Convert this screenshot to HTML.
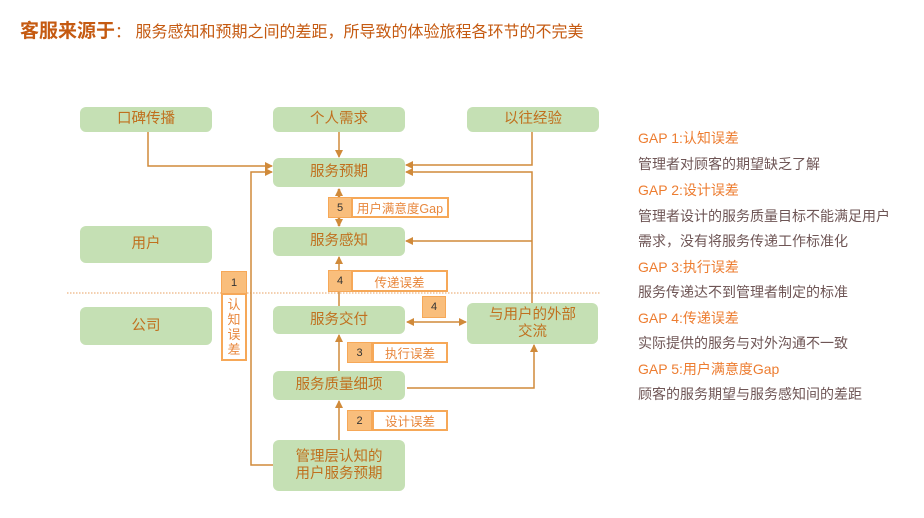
<!DOCTYPE html>
<html><head><meta charset="utf-8"><style>
body{margin:0;width:924px;height:518px;background:#fff;position:relative;overflow:hidden;font-family:"Liberation Sans","Noto Sans CJK SC",sans-serif}
.n{position:absolute;background:#c5e0b4;border-radius:6px;color:#c0701e;font-size:14.5px;display:flex;align-items:center;justify-content:center;text-align:center;line-height:17px}
.num{position:absolute;background:#f9be7c;border:1px solid #f6a858;box-sizing:border-box;font-size:11px;color:#333;display:flex;align-items:center;justify-content:center}
.lb{position:absolute;background:#fff;border:2px solid #f6a858;box-sizing:border-box;font-size:12.5px;color:#e8873c;display:flex;align-items:center;justify-content:center}
.r{position:absolute;left:638px;font-size:14px;white-space:nowrap}
.g{color:#ed7d31}.d{color:#6e5555}
</style></head><body>
<div style="position:absolute;left:20px;top:16px;white-space:nowrap;color:#c55a11"><b style="font-size:19px">客服来源于</b><span style="font-size:16px">：&nbsp;服务感知和预期之间的差距，所导致的体验旅程各环节的不完美</span></div>
<svg width="924" height="518" style="position:absolute;left:0;top:0">
<defs><marker id="a" markerWidth="8" markerHeight="8" refX="7" refY="4" orient="auto" markerUnits="userSpaceOnUse"><path d="M0,0L8,4L0,8z" fill="#d08a3a"/></marker>
<marker id="s" markerWidth="8" markerHeight="8" refX="1" refY="4" orient="auto" markerUnits="userSpaceOnUse"><path d="M8,0L0,4L8,8z" fill="#d08a3a"/></marker></defs>
<g stroke="#d08a3a" stroke-width="1.5" fill="none">
<line x1="67" y1="293" x2="600" y2="293" stroke="#e8a060" stroke-width="1" stroke-dasharray="1.5,1.5"/>
<polyline points="148,132 148,166 272,166" marker-end="url(#a)"/>
<line x1="339" y1="132" x2="339" y2="157" marker-end="url(#a)"/>
<polyline points="532,132 532,165 406,165" marker-end="url(#a)"/>
<polyline points="532,303 532,172 406,172" marker-end="url(#a)"/>
<line x1="532" y1="241" x2="406" y2="241" marker-end="url(#a)"/>
<polyline points="273,465 251,465 251,172 272,172" marker-end="url(#a)"/>
<line x1="339" y1="189" x2="339" y2="226" stroke-width="2.5" marker-start="url(#s)" marker-end="url(#a)"/>
<line x1="339" y1="306" x2="339" y2="257" marker-end="url(#a)"/>
<line x1="339" y1="371" x2="339" y2="335" marker-end="url(#a)"/>
<line x1="339" y1="440" x2="339" y2="401" marker-end="url(#a)"/>
<line x1="407" y1="322" x2="466" y2="322" marker-start="url(#s)" marker-end="url(#a)"/>
<polyline points="407,388 534,388 534,345" marker-end="url(#a)"/>
</g></svg>
<div class="n" style="left:80px;top:107px;width:132px;height:25px">口碑传播</div>
<div class="n" style="left:273px;top:107px;width:132px;height:25px">个人需求</div>
<div class="n" style="left:467px;top:107px;width:132px;height:25px">以往经验</div>
<div class="n" style="left:273px;top:158px;width:132px;height:29px">服务预期</div>
<div class="n" style="left:273px;top:227px;width:132px;height:29px">服务感知</div>
<div class="n" style="left:80px;top:226px;width:132px;height:37px">用户</div>
<div class="n" style="left:80px;top:307px;width:132px;height:38px">公司</div>
<div class="n" style="left:273px;top:306px;width:132px;height:28px">服务交付</div>
<div class="n" style="left:467px;top:303px;width:131px;height:41px">与用户的外部<br>交流</div>
<div class="n" style="left:273px;top:371px;width:132px;height:29px">服务质量细项</div>
<div class="n" style="left:273px;top:440px;width:132px;height:51px">管理层认知的<br>用户服务预期</div>
<div class="num" style="left:221px;top:271px;width:26px;height:23px">1</div>
<div class="lb" style="left:221px;top:293px;width:26px;height:68px;border-width:2px;font-size:13px;line-height:15px;text-align:center">认<br>知<br>误<br>差</div>
<div class="num" style="left:328px;top:197px;width:24px;height:21px">5</div>
<div class="lb" style="left:351px;top:197px;width:98px;height:21px">用户满意度Gap</div>
<div class="num" style="left:328px;top:270px;width:24px;height:22px">4</div>
<div class="lb" style="left:351px;top:270px;width:97px;height:22px">传递误差</div>
<div class="num" style="left:422px;top:296px;width:24px;height:22px">4</div>
<div class="num" style="left:347px;top:342px;width:25px;height:21px">3</div>
<div class="lb" style="left:372px;top:342px;width:76px;height:21px">执行误差</div>
<div class="num" style="left:347px;top:410px;width:25px;height:21px">2</div>
<div class="lb" style="left:372px;top:410px;width:76px;height:21px">设计误差</div>
<div class="r g" style="top:128px">GAP 1:认知误差</div>
<div class="r d" style="top:154px">管理者对顾客的期望缺乏了解</div>
<div class="r g" style="top:180px">GAP 2:设计误差</div>
<div class="r d" style="top:206px">管理者设计的服务质量目标不能满足用户</div>
<div class="r d" style="top:231px">需求，没有将服务传递工作标准化</div>
<div class="r g" style="top:257px">GAP 3:执行误差</div>
<div class="r d" style="top:282px">服务传递达不到管理者制定的标准</div>
<div class="r g" style="top:308px">GAP 4:传递误差</div>
<div class="r d" style="top:333px">实际提供的服务与对外沟通不一致</div>
<div class="r g" style="top:359px">GAP 5:用户满意度Gap</div>
<div class="r d" style="top:384px">顾客的服务期望与服务感知间的差距</div>
</body></html>
